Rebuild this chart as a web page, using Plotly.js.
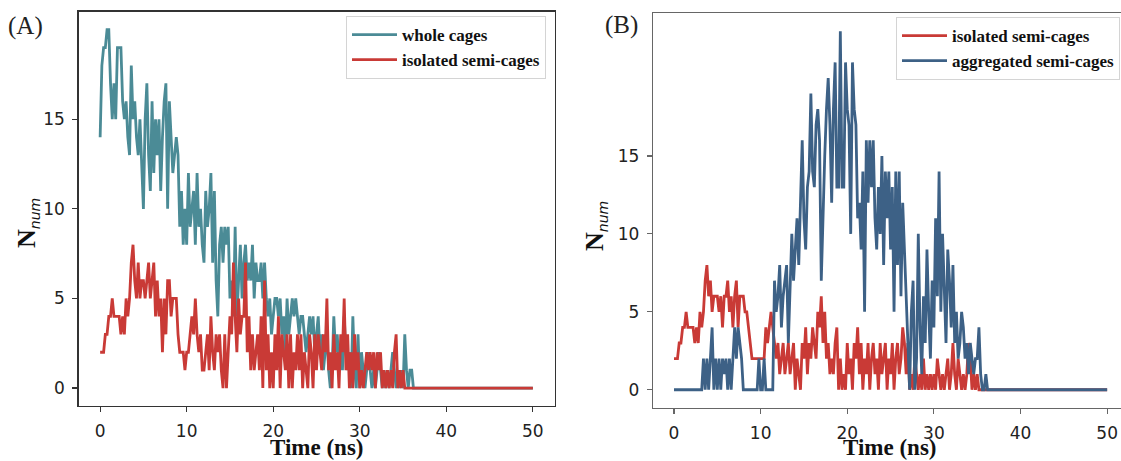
<!DOCTYPE html>
<html>
<head>
<meta charset="utf-8">
<script src="https://cdn.plot.ly/plotly-3.0.1.min.js"></script>
<style>html,body{margin:0;padding:0;background:#fff;}#chart{width:1121px;height:461px;}</style>
</head>
<body>
<div id="chart"></div>
<script>
// sampling step of the trajectories (ns); last sample time of the tail
const timeStep = 0.2;
const tailTime = 50;

// (A) whole cages, t = 0 .. 36.2 ns
const wholeCages = [
  14,18,19,19,20,20,17,15,17,15,19,19,19,16,15,16,14,13,18,15,16,14,13,15,12,
  10,15,17,13,11,16,12,15,13,15,11,14,16,17,10,16,14,12,13,14,13,9,11,8,10,
  8,12,9,10,11,8,12,9,10,8,7,11,9,10,12,7,11,6,4,8,9,7,9,8,9,
  5,6,4,9,4,6,8,5,7,8,6,7,6,8,5,7,6,6,7,5,7,5,4,5,3,
  4,5,5,4,5,3,4,2,5,3,4,5,4,5,4,3,4,4,3,2,3,4,3,4,2,
  3,4,2,3,1,2,3,1,0,1,4,2,3,1,2,1,4,2,1,2,0,4,1,0,3,
  0,2,1,0,1,2,1,0,1,0,1,2,1,0,1,0,1,0,1,2,1,0,1,0,1,
  0,3,1,0,1,1,0
];
// (A) isolated semi-cages
const isolatedA = [
  2,2,2,3,3,4,4,5,4,4,4,4,3,4,3,5,4,5,7,8,6,5,7,5,6,
  6,5,6,7,5,6,7,4,6,4,5,2,5,3,6,6,4,5,5,5,3,2,2,2,1,
  2,2,3,4,3,5,3,2,3,1,1,2,3,1,4,2,1,3,2,3,1,0,3,0,2,
  4,3,7,4,2,5,3,4,4,7,2,4,1,3,1,2,3,1,4,0,6,1,3,0,2,
  0,3,1,4,0,3,2,1,3,0,3,0,2,1,3,1,3,0,2,1,0,3,2,0,3,
  1,3,2,1,3,2,5,1,2,0,3,1,2,0,3,2,5,1,3,0,2,0,3,1,2,
  0,1,0,1,2,1,2,1,2,0,2,1,2,0,1,0,1,0,1,0,2,3,0,1,0,
  1,0,0,0,0,0,0
];
// (B) isolated semi-cages
const isolatedB = [
  2,2,2,3,3,4,4,5,4,4,4,4,3,4,3,5,4,5,7,8,6,7,5,6,6,
  6,5,6,4,6,6,7,5,6,4,6,7,4,6,6,6,5,5,4,3,2,2,2,2,2,
  2,2,2,4,3,4,5,4,3,2,3,1,2,3,1,2,3,1,2,3,0,2,1,0,3,
  2,4,1,3,2,4,3,2,5,4,6,3,5,2,3,1,2,1,3,4,0,2,0,1,0,
  3,1,2,0,3,2,4,1,3,0,2,1,3,0,2,3,1,2,0,3,1,2,3,0,2,
  1,3,0,2,3,1,2,4,3,1,3,0,1,0,2,1,0,1,0,2,0,1,0,1,0,
  1,0,2,1,0,1,0,1,2,0,1,3,1,0,2,1,0,1,0,1,3,2,0,1,0,
  1,0,0,0,0,0,0
];
// (B) aggregated semi-cages
const aggregatedB = [
  0,0,0,0,0,0,0,0,0,0,0,0,0,0,0,0,0,2,0,2,0,2,4,0,2,
  0,2,0,2,1,2,0,2,0,2,4,2,4,3,2,0,0,0,0,0,0,0,0,0,2,
  0,0,2,0,0,0,0,0,7,5,6,8,4,6,7,8,3,6,10,7,9,11,8,12,16,
  11,9,13,14,19,14,13,17,18,16,7,12,15,18,20,17,12,18,21,13,13,23,13,13,21,
  18,17,10,21,18,17,11,12,9,14,5,16,12,16,13,16,11,9,13,10,15,8,14,11,14,
  9,13,5,14,8,14,6,12,9,7,3,0,5,7,0,2,10,4,1,6,3,9,5,2,7,
  4,11,6,14,5,10,6,3,9,7,4,8,3,5,2,3,5,4,2,3,1,3,2,1,2,
  2,4,1,0,0,1,0
];

const xTicks = [0,10,20,30,40,50];
const yTicks = [0,5,10,15];
const labels = {
  A: ['whole cages','isolated semi-cages'],
  B: ['isolated semi-cages','aggregated semi-cages']
};

function times(n){ const t=[]; for(let i=0;i<n;i++) t.push(+(i*timeStep).toFixed(2)); t.push(tailTime); return t; }
function withTail(v){ return v.concat([0]); }

const W=1121, H=461;
const colTeal='#4b8b96', colRed='#c93a36', colBlue='#3d6186';
const lw=2.8;

const traces=[
  {x:times(wholeCages.length), y:withTail(wholeCages), xaxis:'x', yaxis:'y', mode:'lines', name:labels.A[0], line:{color:colTeal,width:lw}, legend:'legend'},
  {x:times(isolatedA.length), y:withTail(isolatedA), xaxis:'x', yaxis:'y', mode:'lines', name:labels.A[1], line:{color:colRed,width:lw}, legend:'legend'},
  {x:times(isolatedB.length), y:withTail(isolatedB), xaxis:'x2', yaxis:'y2', mode:'lines', name:labels.B[0], line:{color:colRed,width:lw}, legend:'legend2'},
  {x:times(aggregatedB.length), y:withTail(aggregatedB), xaxis:'x2', yaxis:'y2', mode:'lines', name:labels.B[1], line:{color:colBlue,width:lw}, legend:'legend2'}
];

const tickFont={family:'DejaVu Sans', size:17, color:'#222'};
function ax(o){ return Object.assign({showgrid:false, zeroline:false, showline:true, ticks:'outside', ticklen:5, tickwidth:1.2, tickfont:tickFont, fixedrange:true, ticklabelstandoff:4}, o); }

const legBase={xanchor:'left', yanchor:'top', xref:'paper', yref:'paper', bgcolor:'rgba(255,255,255,0.9)', bordercolor:'#d4d4d4', borderwidth:1, font:{family:'Liberation Serif', size:17, color:'#111', weight:'bold'}, itemwidth:45, tracegroupgap:0};

const yTitle='<b>N</b><sub><span style="font-family:DejaVu Sans;font-style:italic;font-weight:normal;font-size:14px">num</span></sub>';

const layout={
  width:W, height:H, margin:{l:0,r:0,t:0,b:0}, paper_bgcolor:'#fff', plot_bgcolor:'#fff', showlegend:true,
  xaxis: ax({domain:[78.5/W,554.5/W], range:[-2.5,52.5], tickvals:xTicks, linecolor:'#333', tickcolor:'#333', mirror:true, anchor:'y', linewidth:1.3}),
  yaxis: ax({domain:[55/H,449.3/H], range:[-1,21], tickvals:yTicks, linecolor:'#333', tickcolor:'#333', mirror:true, anchor:'x', linewidth:1.3}),
  xaxis2: ax({domain:[653.3/W,1], range:[-2.39,51.6], tickvals:xTicks, linecolor:'#666', tickcolor:'#666', mirror:true, anchor:'y2', linewidth:1.5}),
  yaxis2: ax({domain:[53.3/H,447.7/H], range:[-1.15,24.15], tickvals:yTicks, linecolor:'#666', tickcolor:'#666', mirror:false, anchor:'x2', linewidth:1.5}),
  legend: Object.assign({}, legBase, {x:346/W, y:1-16/H}),
  legend2: Object.assign({}, legBase, {x:896/W, y:1-17/H}),
  annotations:[
    {text:'(A)', xref:'paper', yref:'paper', x:25/W, y:1-26/H, xanchor:'center', yanchor:'middle', showarrow:false, font:{family:'Liberation Serif', size:25, color:'#222'}},
    {text:'(B)', xref:'paper', yref:'paper', x:621/W, y:1-25/H, xanchor:'center', yanchor:'middle', showarrow:false, font:{family:'Liberation Serif', size:25, color:'#222'}},
    {text:'<b>Time (ns)</b>', xref:'paper', yref:'paper', x:316.5/W, y:1-447/H, xanchor:'center', yanchor:'middle', showarrow:false, font:{family:'Liberation Serif', size:23, color:'#111'}},
    {text:'<b>Time (ns)</b>', xref:'paper', yref:'paper', x:890.5/W, y:1-447/H, xanchor:'center', yanchor:'middle', showarrow:false, font:{family:'Liberation Serif', size:23, color:'#111'}},
    {text:yTitle, xref:'paper', yref:'paper', x:27/W, y:1-223/H, xanchor:'center', yanchor:'middle', textangle:-90, showarrow:false, font:{family:'Liberation Serif', size:26, color:'#111'}},
    {text:yTitle, xref:'paper', yref:'paper', x:596/W, y:1-226/H, xanchor:'center', yanchor:'middle', textangle:-90, showarrow:false, font:{family:'Liberation Serif', size:26, color:'#111'}}
  ]
};

Plotly.newPlot('chart', traces, layout, {displayModeBar:false, staticPlot:true});
</script>
</body>
</html>
